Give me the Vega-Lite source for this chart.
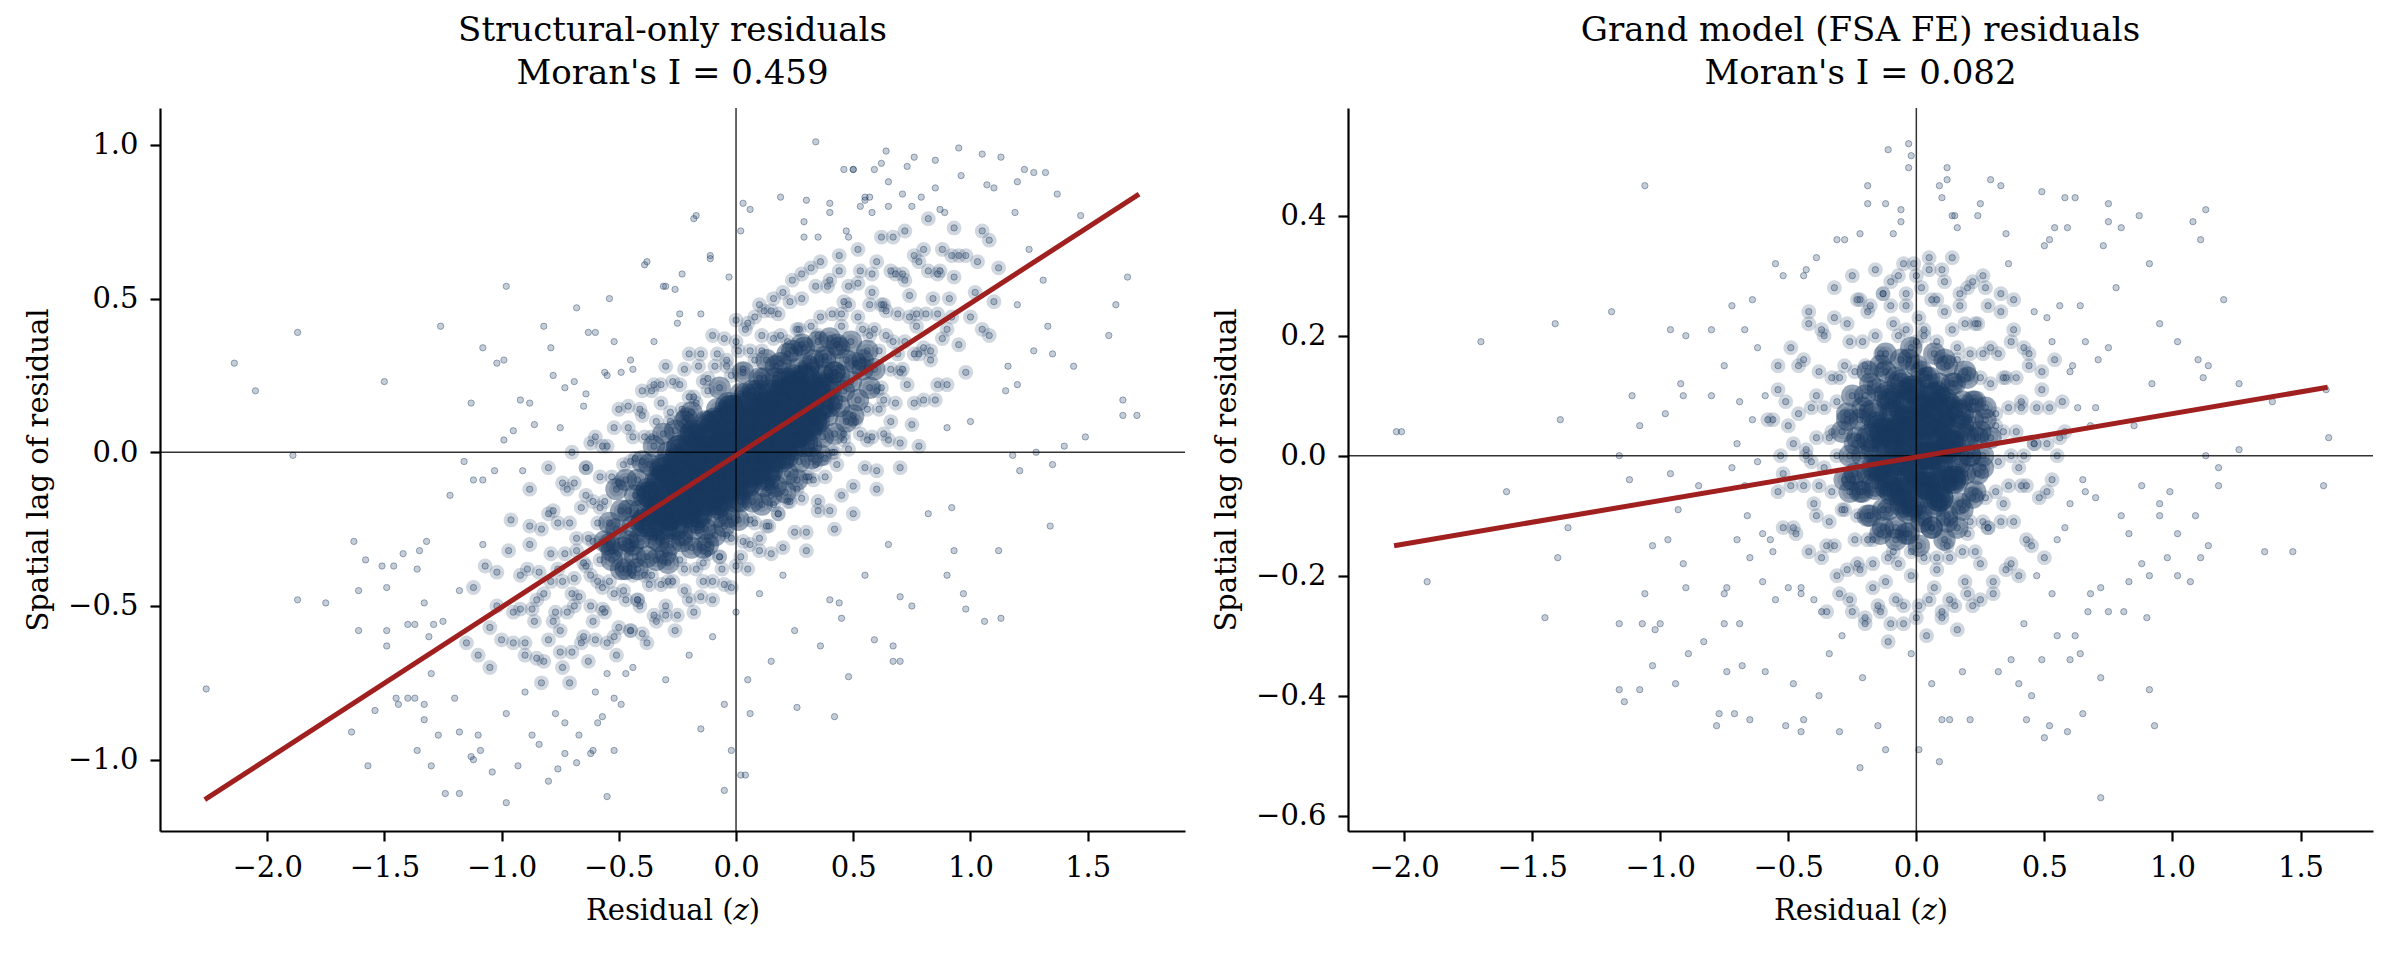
{
  "$schema": "https://vega.github.io/schema/vega-lite/v6.json",
  "background": "white",
  "padding": {"left": 24, "top": 14, "right": 5, "bottom": 5},
  "spacing": 26,
  "config": {
    "font": "DejaVu Serif",
    "view": {"stroke": null},
    "axis": {
      "grid": false,
      "domainColor": "black",
      "domainWidth": 2.2,
      "tickColor": "black",
      "tickWidth": 2.2,
      "tickSize": 10,
      "labelFont": "DejaVu Serif",
      "labelFontSize": 29,
      "labelColor": "black",
      "labelPadding": 12,
      "titleFont": "DejaVu Serif",
      "titleFontSize": 29,
      "titleFontWeight": "normal",
      "titleColor": "black",
      "titlePadding": 14
    },
    "title": {
      "font": "DejaVu Serif",
      "fontSize": 34,
      "fontWeight": "normal",
      "color": "black",
      "lineHeight": 43,
      "offset": 16,
      "anchor": "middle",
      "frame": "group"
    }
  },
  "hconcat": [
    {
      "width": 1025,
      "height": 723,
      "title": {"text": ["Structural-only residuals", "Moran's I = 0.459"]},
      "data": {
        "values": "x,y\n-2.26,-0.77\n-2.14,0.29\n-2.05,0.20\n-1.87,0.39\n-1.89,-0.01\n-1.87,-0.48\n-1.75,-0.49\n-1.63,-0.29\n-1.58,-0.35\n-1.61,-0.45\n-1.61,-0.58\n-1.54,-0.84\n-1.57,-1.02\n-1.64,-0.91\n-1.50,0.23\n-1.51,-0.37\n-1.46,-0.37\n-1.49,-0.44\n-1.49,-0.58\n-1.49,-0.63\n-1.42,-0.33\n-1.32,-0.29\n-1.35,-0.32\n-1.26,0.41\n-1.08,0.34\n-1.02,0.29\n-0.99,0.30\n-0.98,0.54\n-1.13,0.16\n-0.82,0.41\n-0.79,0.34\n-0.68,0.47\n-0.54,0.50\n-0.39,0.61\n-0.38,0.62\n-0.23,0.58\n-0.18,0.76\n-0.17,0.77\n-0.11,0.64\n-0.31,0.54\n-0.26,0.53\n-0.63,0.39\n-0.60,0.39\n-1.36,-0.97\n-1.30,-1.02\n-1.24,-1.11\n-1.18,-1.11\n-0.98,-1.14\n-1.04,-1.04\n-0.80,-1.07\n-0.76,-1.03\n-0.55,-1.12\n-0.68,-1.01\n-0.61,-0.97\n-0.52,-0.97\n-1.27,-0.92\n-1.18,-0.91\n-1.13,-0.99\n-1.09,-0.97\n-1.37,-0.80\n-1.44,-0.82\n-1.45,-0.80\n-1.40,-0.80\n-1.33,-0.87\n-1.33,-0.82\n-1.40,-0.56\n-1.37,-0.56\n-1.36,-0.38\n-1.33,-0.49\n-1.29,-0.56\n-1.31,-0.60\n-1.22,-0.14\n-1.16,-0.03\n-1.12,-0.09\n-1.08,-0.09\n-1.03,-0.06\n-0.99,0.04\n-0.95,0.07\n-0.91,-0.06\n-0.92,0.17\n-0.88,0.16\n-0.86,0.09\n-0.78,0.25\n-0.73,0.21\n-0.69,0.23\n-0.64,0.19\n-0.56,0.26\n-0.52,0.36\n-0.49,0.26\n-0.44,0.27\n0.34,1.01\n0.64,0.98\n0.95,0.99\n1.05,0.97\n1.13,0.96\n1.27,0.91\n1.32,0.91\n1.23,0.92\n0.85,0.95\n0.76,0.96\n0.73,0.93\n0.59,0.92\n0.46,0.92\n0.50,0.92\n0.19,0.83\n0.03,0.81\n0.06,0.79\n0.02,0.72\n1.37,0.84\n1.20,0.88\n1.47,0.77\n1.67,0.57\n1.62,0.48\n1.59,0.38\n1.65,0.17\n1.71,0.12\n1.65,0.12\n1.49,0.05\n1.40,0.02\n1.35,-0.04\n1.34,-0.24\n1.12,-0.32\n1.13,-0.54\n1.06,-0.55\n0.98,-0.51\n0.97,-0.46\n0.67,-0.68\n0.67,-0.63\n0.48,-0.73\n0.42,-0.86\n0.26,-0.83\n0.06,-0.85\n0.04,-1.05\n0.02,-1.05\n-0.05,-1.10\n-0.02,-0.97\n0.59,-0.61\n0.70,-0.47\n0.70,-0.68\n0.44,-0.49\n0.45,-0.54\n0.36,-0.63\n0.92,-0.18\n0.93,-0.32\n1.21,-0.06\n1.18,-0.01\n1.28,0.00\n1.20,0.22\n1.16,0.28\n1.27,0.33\n1.35,0.32\n1.33,0.41\n1.44,0.28\n1.31,0.56\n1.19,0.78\n0.93,0.73\n1.07,0.87\n0.79,0.83\n0.87,0.79\n0.65,0.80\n0.55,0.83\n0.57,0.83\n0.40,0.81\n0.29,0.75\n0.29,0.70\n-0.11,0.63\n-0.03,0.57\n-0.24,0.45\n-0.30,0.54\n-0.40,-0.22\n-0.38,-0.12\n-0.35,-0.28\n-0.33,-0.18\n-0.31,-0.05\n-0.30,-0.33\n-0.28,-0.21\n-0.26,-0.10\n-0.25,0.02\n-0.23,-0.27\n-0.21,-0.15\n-0.20,-0.04\n-0.18,0.06\n-0.17,-0.22\n-0.15,-0.11\n-0.13,0.01\n-0.12,-0.30\n-0.10,-0.06\n-0.09,0.10\n-0.08,-0.17\n-0.06,0.03\n-0.05,-0.24\n-0.04,-0.09\n-0.02,0.14\n-0.01,0.00\n0.00,-0.15\n0.01,0.08\n0.02,-0.05\n0.04,0.19\n0.05,-0.10\n0.06,0.04\n0.08,0.13\n0.09,-0.02\n0.10,0.24\n0.12,0.07\n0.13,-0.08\n0.14,0.16\n0.16,0.02\n0.17,0.28\n0.18,0.11\n0.20,0.20\n0.21,-0.01\n0.22,0.32\n0.24,0.14\n0.25,0.24\n0.27,0.06\n0.28,0.35\n0.30,0.18\n0.31,0.27\n0.33,0.10\n0.35,0.38\n0.36,0.22\n0.38,0.30\n0.40,0.15\n0.42,0.26\n-0.44,-0.30\n-0.42,-0.38\n0.44,0.34\n-0.36,-0.40\n0.03,0.27\n-0.07,-0.34\n0.15,-0.14\n-0.19,0.13\n0.26,0.40\n-0.29,-0.42\n0.32,0.02\n-0.22,0.10\n0.11,0.33\n-0.14,-0.36\n0.19,0.38\n-0.90,-0.62\n-0.88,-0.30\n-0.85,-0.48\n-0.83,-0.75\n-0.80,-0.20\n-0.78,-0.55\n-0.76,-0.38\n-0.74,-0.70\n-0.72,-0.12\n-0.70,-0.46\n-0.68,-0.28\n-0.66,-0.62\n-0.64,-0.05\n-0.62,-0.40\n-0.60,-0.78\n-0.58,-0.18\n-0.56,-0.52\n-0.55,0.02\n-0.53,-0.32\n-0.51,-0.66\n-0.50,-0.10\n-0.48,-0.45\n-0.46,0.08\n-0.45,-0.58\n-0.43,-0.02\n-0.41,-0.50\n-0.40,0.12\n-0.38,-0.62\n-0.36,0.05\n-0.34,-0.55\n-0.32,0.16\n-0.30,-0.50\n-0.28,0.10\n-0.26,-0.58\n-0.24,0.22\n-0.22,-0.45\n-0.20,0.18\n-0.18,-0.52\n-0.16,0.28\n-0.14,-0.42\n-0.12,0.24\n-0.10,-0.48\n-0.08,0.32\n-0.06,-0.38\n-0.04,0.30\n-0.02,-0.44\n0.00,0.36\n0.02,-0.34\n0.04,0.40\n0.06,-0.30\n0.08,0.44\n0.10,-0.28\n0.12,0.46\n0.14,-0.24\n0.16,0.50\n0.18,-0.20\n0.20,0.52\n0.22,-0.16\n0.24,0.56\n0.26,-0.12\n0.28,0.58\n0.30,-0.08\n0.32,0.60\n0.34,-0.04\n0.36,0.62\n0.38,-0.02\n0.40,0.56\n0.42,0.00\n0.44,0.64\n0.46,0.06\n0.48,0.48\n0.50,0.12\n0.52,0.66\n0.54,0.30\n0.56,0.04\n0.58,0.52\n0.60,0.20\n0.62,0.70\n0.64,0.38\n0.66,0.10\n0.68,0.58\n0.70,0.26\n0.72,0.72\n0.74,0.44\n0.76,0.16\n0.78,0.62\n0.80,0.34\n0.82,0.76\n0.84,0.50\n0.86,0.22\n0.88,0.66\n0.90,0.40\n-0.87,-0.92\n-0.73,-0.88\n-0.57,-0.86\n0.58,0.78\n0.71,0.84\n0.85,0.86\n-0.64,-0.14\n-0.47,-0.72\n0.47,0.72\n0.63,0.06\n-0.35,0.22\n0.35,-0.16\n-0.52,-0.80\n0.53,0.80\n-1.20,-0.80\n-1.15,-0.62\n-1.10,-0.92\n-1.05,-0.70\n-1.02,-0.50\n-0.98,-0.85\n-0.95,-0.62\n-0.92,-0.40\n-0.90,-0.78\n-0.86,-0.55\n-0.84,-0.95\n-0.82,-0.68\n-0.79,-0.42\n-0.77,-0.85\n-0.75,-0.58\n-0.71,-0.75\n-0.69,-0.50\n-0.67,-0.92\n-0.65,-0.36\n-0.63,-0.68\n-0.61,-0.55\n-0.59,-0.88\n-0.57,-0.44\n-0.55,-0.72\n-0.54,-0.30\n-0.52,-0.60\n-0.49,-0.82\n-0.47,-0.38\n-0.44,-0.70\n-0.42,-0.48\n-1.25,-0.55\n-1.30,-0.72\n-1.18,-0.45\n-1.08,-0.30\n-0.96,-0.22\n-0.88,-0.12\n-1.12,-1.00\n-0.93,-1.02\n-0.73,-0.98\n-0.62,-0.98\n0.45,0.45\n0.48,0.70\n0.52,0.55\n0.55,0.82\n0.57,0.38\n0.60,0.62\n0.63,0.48\n0.65,0.88\n0.67,0.70\n0.69,0.32\n0.72,0.56\n0.75,0.80\n0.77,0.45\n0.80,0.66\n0.83,0.30\n0.86,0.58\n0.89,0.78\n0.92,0.44\n0.95,0.64\n0.98,0.26\n1.02,0.52\n1.05,0.72\n1.08,0.38\n1.12,0.60\n1.15,0.20\n1.20,0.48\n1.25,0.66\n1.10,0.86\n0.96,0.90\n0.40,0.78\n0.35,0.70\n0.30,0.82\n0.50,0.92\n0.62,0.94\n1.00,0.10\n0.90,0.08\n0.78,0.02\n0.70,-0.05\n0.60,-0.12\n0.50,-0.20\n0.42,-0.25\n0.30,-0.32\n0.20,-0.40\n0.10,-0.46\n0.00,-0.52\n-0.10,-0.60\n-0.20,-0.66\n-0.30,-0.74\n0.82,-0.20\n0.65,-0.30\n0.55,-0.40\n0.40,-0.48\n0.25,-0.58\n0.15,-0.68\n0.05,-0.74\n-0.05,-0.82\n-0.15,-0.90\n0.90,-0.40\n0.75,-0.50\n-0.20,0.32\n-0.30,0.28\n-0.40,0.20\n-0.50,0.14\n-0.60,0.05\n-0.70,0.00\n-0.45,0.30\n-0.25,0.42\n-0.15,0.45\n-0.35,0.36\n-0.55,0.25\n-0.65,0.15\n-0.75,0.08\n-0.80,-0.05\n-1.10,-0.66\n-1.12,-0.44\n-1.05,-0.57\n-1.07,-0.37\n-1.00,-0.61\n-1.02,-0.39\n-0.95,-0.52\n-0.97,-0.32\n-0.90,-0.66\n-0.92,-0.51\n-0.89,-0.38\n-0.88,-0.24\n-0.85,-0.67\n-0.87,-0.51\n-0.84,-0.39\n-0.83,-0.25\n-0.80,-0.61\n-0.82,-0.46\n-0.79,-0.33\n-0.78,-0.19\n-0.75,-0.65\n-0.77,-0.52\n-0.74,-0.42\n-0.73,-0.33\n-0.76,-0.23\n-0.74,-0.10\n-0.70,-0.65\n-0.72,-0.52\n-0.69,-0.41\n-0.68,-0.32\n-0.71,-0.23\n-0.69,-0.10\n-0.65,-0.60\n-0.67,-0.47\n-0.64,-0.37\n-0.63,-0.28\n-0.66,-0.18\n-0.64,-0.05\n-0.60,-0.61\n-0.62,-0.50\n-0.59,-0.42\n-0.58,-0.35\n-0.61,-0.29\n-0.59,-0.23\n-0.61,-0.16\n-0.58,-0.08\n-0.62,0.03\n-0.55,-0.62\n-0.57,-0.51\n-0.54,-0.42\n-0.53,-0.35\n-0.56,-0.29\n-0.54,-0.23\n-0.56,-0.16\n-0.53,-0.08\n-0.57,0.02\n-0.50,-0.57\n-0.52,-0.46\n-0.49,-0.38\n-0.48,-0.31\n-0.51,-0.25\n-0.49,-0.19\n-0.51,-0.12\n-0.48,-0.04\n-0.52,0.08\n-0.45,-0.58\n-0.47,-0.48\n-0.44,-0.40\n-0.43,-0.34\n-0.46,-0.29\n-0.44,-0.24\n-0.46,-0.19\n-0.43,-0.14\n-0.47,-0.09\n-0.45,-0.03\n-0.44,0.05\n-0.46,0.15\n-0.40,-0.59\n-0.42,-0.48\n-0.39,-0.40\n-0.38,-0.34\n-0.41,-0.28\n-0.39,-0.23\n-0.41,-0.19\n-0.38,-0.14\n-0.42,-0.09\n-0.40,-0.03\n-0.39,0.05\n-0.41,0.14\n-0.35,-0.53\n-0.37,-0.43\n-0.34,-0.35\n-0.33,-0.29\n-0.36,-0.24\n-0.34,-0.19\n-0.36,-0.14\n-0.33,-0.09\n-0.37,-0.04\n-0.35,0.02\n-0.34,0.10\n-0.36,0.20\n-0.30,-0.53\n-0.32,-0.43\n-0.29,-0.36\n-0.28,-0.30\n-0.31,-0.25\n-0.29,-0.21\n-0.31,-0.17\n-0.28,-0.13\n-0.32,-0.09\n-0.30,-0.05\n-0.29,0.00\n-0.31,0.06\n-0.28,0.13\n-0.32,0.22\n-0.25,-0.53\n-0.27,-0.42\n-0.24,-0.35\n-0.23,-0.29\n-0.26,-0.24\n-0.24,-0.19\n-0.26,-0.15\n-0.23,-0.11\n-0.27,-0.07\n-0.25,-0.03\n-0.24,0.01\n-0.26,0.07\n-0.23,0.14\n-0.27,0.23\n-0.20,-0.48\n-0.22,-0.38\n-0.19,-0.31\n-0.18,-0.25\n-0.21,-0.20\n-0.19,-0.16\n-0.21,-0.12\n-0.18,-0.08\n-0.22,-0.04\n-0.20,0.00\n-0.19,0.05\n-0.21,0.11\n-0.18,0.18\n-0.22,0.27\n-0.15,-0.47\n-0.17,-0.38\n-0.14,-0.31\n-0.13,-0.25\n-0.16,-0.20\n-0.14,-0.16\n-0.16,-0.12\n-0.13,-0.09\n-0.17,-0.06\n-0.15,-0.02\n-0.14,0.01\n-0.16,0.05\n-0.13,0.10\n-0.17,0.16\n-0.14,0.23\n-0.15,0.32\n-0.10,-0.42\n-0.12,-0.33\n-0.09,-0.27\n-0.08,-0.21\n-0.11,-0.16\n-0.09,-0.12\n-0.11,-0.09\n-0.08,-0.05\n-0.12,-0.02\n-0.10,0.01\n-0.09,0.05\n-0.11,0.09\n-0.08,0.14\n-0.12,0.20\n-0.09,0.28\n-0.10,0.38\n-0.05,-0.43\n-0.07,-0.34\n-0.04,-0.27\n-0.03,-0.21\n-0.06,-0.16\n-0.04,-0.12\n-0.06,-0.08\n-0.03,-0.05\n-0.07,-0.02\n-0.05,0.03\n-0.04,0.06\n-0.06,0.10\n-0.03,0.15\n-0.07,0.21\n-0.04,0.28\n-0.05,0.37\n0.00,-0.37\n-0.02,-0.28\n0.01,-0.22\n0.02,-0.16\n-0.01,-0.11\n0.01,-0.07\n-0.01,-0.04\n0.02,0.00\n-0.02,0.03\n0.00,0.06\n0.01,0.10\n-0.01,0.14\n0.02,0.19\n-0.02,0.25\n0.01,0.33\n0.00,0.43\n0.05,-0.38\n0.03,-0.29\n0.06,-0.22\n0.07,-0.16\n0.04,-0.11\n0.06,-0.07\n0.04,-0.03\n0.07,0.01\n0.03,0.04\n0.05,0.08\n0.06,0.11\n0.04,0.15\n0.07,0.20\n0.03,0.26\n0.06,0.33\n0.05,0.42\n0.10,-0.32\n0.08,-0.23\n0.11,-0.17\n0.12,-0.11\n0.09,-0.06\n0.11,-0.02\n0.09,0.01\n0.12,0.05\n0.08,0.08\n0.10,0.11\n0.11,0.15\n0.09,0.19\n0.12,0.24\n0.08,0.30\n0.11,0.38\n0.10,0.48\n0.15,-0.33\n0.13,-0.24\n0.16,-0.17\n0.17,-0.11\n0.14,-0.06\n0.16,-0.02\n0.14,0.02\n0.17,0.05\n0.13,0.08\n0.15,0.12\n0.16,0.15\n0.14,0.19\n0.17,0.24\n0.13,0.30\n0.16,0.37\n0.15,0.46\n0.20,-0.31\n0.18,-0.20\n0.21,-0.13\n0.22,-0.07\n0.19,-0.02\n0.21,0.03\n0.19,0.07\n0.22,0.11\n0.18,0.15\n0.20,0.19\n0.21,0.23\n0.19,0.29\n0.22,0.36\n0.18,0.45\n0.25,-0.26\n0.23,-0.16\n0.26,-0.09\n0.27,-0.03\n0.24,0.02\n0.26,0.06\n0.24,0.10\n0.27,0.14\n0.23,0.18\n0.25,0.22\n0.26,0.27\n0.24,0.33\n0.27,0.40\n0.23,0.49\n0.30,-0.26\n0.28,-0.15\n0.31,-0.08\n0.32,-0.02\n0.29,0.03\n0.31,0.08\n0.29,0.12\n0.32,0.16\n0.28,0.20\n0.30,0.24\n0.31,0.28\n0.29,0.34\n0.32,0.41\n0.28,0.50\n0.35,-0.19\n0.33,-0.09\n0.36,-0.01\n0.37,0.05\n0.34,0.10\n0.36,0.15\n0.34,0.20\n0.37,0.25\n0.33,0.30\n0.35,0.36\n0.36,0.44\n0.34,0.54\n0.40,-0.19\n0.38,-0.08\n0.41,0.00\n0.42,0.06\n0.39,0.12\n0.41,0.17\n0.39,0.21\n0.42,0.26\n0.38,0.31\n0.40,0.37\n0.41,0.45\n0.39,0.54\n0.45,-0.14\n0.43,-0.04\n0.46,0.04\n0.47,0.10\n0.44,0.15\n0.46,0.20\n0.44,0.25\n0.47,0.30\n0.43,0.35\n0.45,0.41\n0.46,0.49\n0.44,0.59\n0.50,-0.11\n0.48,0.01\n0.51,0.10\n0.52,0.17\n0.49,0.23\n0.51,0.29\n0.49,0.36\n0.52,0.44\n0.48,0.54\n0.55,-0.05\n0.53,0.06\n0.56,0.14\n0.57,0.21\n0.54,0.27\n0.56,0.33\n0.54,0.40\n0.57,0.48\n0.53,0.59\n0.60,-0.06\n0.58,0.05\n0.61,0.14\n0.62,0.21\n0.59,0.27\n0.61,0.33\n0.59,0.40\n0.62,0.48\n0.58,0.58\n0.65,0.04\n0.63,0.17\n0.66,0.27\n0.67,0.36\n0.64,0.46\n0.66,0.59\n0.70,0.03\n0.68,0.16\n0.71,0.27\n0.72,0.36\n0.69,0.45\n0.71,0.58\n0.75,0.09\n0.73,0.22\n0.76,0.32\n0.77,0.41\n0.74,0.51\n0.76,0.64\n0.80,0.17\n0.78,0.32\n0.81,0.45\n0.82,0.59\n0.85,0.17\n0.83,0.33\n0.86,0.45\n0.87,0.59\n0.90,0.22\n0.88,0.37\n0.91,0.50\n0.92,0.64\n0.95,0.35\n0.93,0.57\n1.00,0.44\n0.98,0.64\n1.05,0.40\n1.03,0.62\n1.10,0.49\n1.08,0.69",
        "format": {"type": "csv", "parse": {"x": "number", "y": "number"}}
      },
      "layer": [
        {
          "transform": [{"filter": "pow(datum.x/0.6,2)+pow((datum.y-0.49*datum.x)/0.25,2) < 4"}],
          "mark": {"type": "circle", "size": 220, "color": "#18375e", "opacity": 0.2},
          "encoding": {
            "x": {"field": "x", "type": "quantitative", "scale": {"domain": [-2.457, 1.915], "nice": false, "zero": false}, "axis": {"title": "Residual (𝑧)", "values": [-2, -1.5, -1, -0.5, 0, 0.5, 1, 1.5], "format": ".1f"}},
            "y": {"field": "y", "type": "quantitative", "scale": {"domain": [-1.232, 1.12], "nice": false, "zero": false}, "axis": {"title": "Spatial lag of residual", "values": [-1, -0.5, 0, 0.5, 1], "format": ".1f"}}
          }
        },
        {
          "transform": [{"filter": "pow(datum.x/0.6,2)+pow((datum.y-0.49*datum.x)/0.25,2) < 1"}],
          "mark": {"type": "circle", "size": 500, "color": "#18375e", "opacity": 0.45},
          "encoding": {
            "x": {"field": "x", "type": "quantitative", "scale": {"domain": [-2.457, 1.915], "nice": false, "zero": false}, "axis": {"title": "Residual (𝑧)", "values": [-2, -1.5, -1, -0.5, 0, 0.5, 1, 1.5], "format": ".1f"}},
            "y": {"field": "y", "type": "quantitative", "scale": {"domain": [-1.232, 1.12], "nice": false, "zero": false}, "axis": {"title": "Spatial lag of residual", "values": [-1, -0.5, 0, 0.5, 1], "format": ".1f"}}
          }
        },
        {
          "transform": [{"filter": "pow(datum.x/0.6,2)+pow((datum.y-0.49*datum.x)/0.25,2) < 0.45"}],
          "mark": {"type": "circle", "size": 800, "color": "#18375e", "opacity": 0.5},
          "encoding": {
            "x": {"field": "x", "type": "quantitative", "scale": {"domain": [-2.457, 1.915], "nice": false, "zero": false}, "axis": {"title": "Residual (𝑧)", "values": [-2, -1.5, -1, -0.5, 0, 0.5, 1, 1.5], "format": ".1f"}},
            "y": {"field": "y", "type": "quantitative", "scale": {"domain": [-1.232, 1.12], "nice": false, "zero": false}, "axis": {"title": "Spatial lag of residual", "values": [-1, -0.5, 0, 0.5, 1], "format": ".1f"}}
          }
        },
        {
          "mark": {"type": "point", "filled": true, "size": 40, "fill": "#18375e", "stroke": "#18375e", "fillOpacity": 0.25, "strokeOpacity": 0.4, "strokeWidth": 1},
          "encoding": {
            "x": {"field": "x", "type": "quantitative", "scale": {"domain": [-2.457, 1.915], "nice": false, "zero": false}, "axis": {"title": "Residual (𝑧)", "values": [-2, -1.5, -1, -0.5, 0, 0.5, 1, 1.5], "format": ".1f"}},
            "y": {"field": "y", "type": "quantitative", "scale": {"domain": [-1.232, 1.12], "nice": false, "zero": false}, "axis": {"title": "Spatial lag of residual", "values": [-1, -0.5, 0, 0.5, 1], "format": ".1f"}}
          }
        },
        {
          "data": {"values": [{}]},
          "mark": {"type": "rule", "color": "black", "strokeWidth": 1.5, "opacity": 0.8},
          "encoding": {
            "y": {"datum": 0, "type": "quantitative", "scale": {"domain": [-1.232, 1.12], "nice": false, "zero": false}, "axis": {"title": "Spatial lag of residual", "values": [-1, -0.5, 0, 0.5, 1], "format": ".1f"}}
          }
        },
        {
          "data": {"values": [{}]},
          "mark": {"type": "rule", "color": "black", "strokeWidth": 1.5, "opacity": 0.8},
          "encoding": {
            "x": {"datum": 0, "type": "quantitative", "scale": {"domain": [-2.457, 1.915], "nice": false, "zero": false}, "axis": {"title": "Residual (𝑧)", "values": [-2, -1.5, -1, -0.5, 0, 0.5, 1, 1.5], "format": ".1f"}}
          }
        },
        {
          "data": {"values": [{"x": -2.266, "y": -1.13}, {"x": 1.719, "y": 0.84}]},
          "mark": {"type": "line", "color": "#a01f1f", "strokeWidth": 5},
          "encoding": {
            "x": {"field": "x", "type": "quantitative", "scale": {"domain": [-2.457, 1.915], "nice": false, "zero": false}, "axis": {"title": "Residual (𝑧)", "values": [-2, -1.5, -1, -0.5, 0, 0.5, 1, 1.5], "format": ".1f"}},
            "y": {"field": "y", "type": "quantitative", "scale": {"domain": [-1.232, 1.12], "nice": false, "zero": false}, "axis": {"title": "Spatial lag of residual", "values": [-1, -0.5, 0, 0.5, 1], "format": ".1f"}}
          }
        }
      ]
    },
    {
      "width": 1025,
      "height": 723,
      "title": {"text": ["Grand model (FSA FE) residuals", "Moran's I = 0.082"]},
      "data": {
        "values": "x,y\n-0.03,0.52\n-0.11,0.51\n-0.02,0.50\n-0.03,0.48\n0.12,0.48\n0.12,0.46\n0.09,0.45\n0.29,0.46\n0.33,0.45\n-1.06,0.45\n-0.19,0.45\n-0.19,0.42\n0.10,0.43\n0.49,0.44\n0.58,0.43\n0.62,0.43\n0.75,0.42\n0.87,0.40\n1.13,0.41\n1.08,0.39\n1.11,0.36\n0.75,0.39\n0.80,0.38\n0.59,0.38\n0.54,0.38\n0.52,0.36\n-0.06,0.41\n-0.06,0.39\n0.14,0.40\n0.16,0.38\n0.35,0.37\n-0.22,0.37\n-0.31,0.36\n-0.39,0.33\n-0.52,0.30\n-0.43,0.31\n0.91,0.32\n1.20,0.26\n0.73,0.35\n-1.19,0.24\n-1.41,0.22\n-1.70,0.19\n-0.96,0.21\n-0.80,0.21\n-0.64,0.26\n-0.67,0.21\n-0.75,0.15\n-0.92,0.12\n-1.11,0.10\n-1.39,0.06\n-2.03,0.04\n-2.01,0.04\n-1.08,0.05\n-0.98,0.07\n-0.91,0.10\n-1.16,0.00\n1.61,0.03\n1.60,0.11\n1.39,0.09\n1.26,0.12\n1.12,0.13\n1.14,0.15\n1.10,0.16\n0.95,0.22\n1.02,0.19\n1.26,0.01\n1.18,-0.02\n-1.60,-0.06\n-1.91,-0.21\n-1.45,-0.27\n-1.36,-0.12\n-1.40,-0.17\n-1.16,-0.28\n-1.07,-0.28\n-1.16,-0.39\n-1.14,-0.41\n-1.08,-0.39\n-1.03,-0.35\n-0.94,-0.38\n-1.06,-0.23\n-1.00,-0.28\n-1.02,-0.29\n-0.83,-0.31\n-0.89,-0.33\n-0.78,-0.45\n-0.77,-0.43\n-0.71,-0.43\n-0.65,-0.44\n-0.51,-0.45\n-0.45,-0.46\n-0.44,-0.44\n-0.22,-0.52\n-0.12,-0.49\n0.01,-0.49\n0.09,-0.51\n0.72,-0.57\n0.50,-0.47\n0.52,-0.45\n0.59,-0.46\n0.65,-0.43\n0.43,-0.44\n0.93,-0.45\n0.91,-0.39\n0.13,-0.44\n0.21,-0.44\n0.72,-0.37\n0.40,-0.38\n0.37,-0.34\n0.49,-0.34\n0.60,-0.34\n0.64,-0.33\n0.55,-0.30\n0.90,-0.27\n0.75,-0.26\n1.07,-0.21\n1.02,-0.20\n0.91,-0.20\n0.83,-0.21\n1.11,-0.17\n1.36,-0.16\n1.47,-0.16\n1.14,-0.15\n1.02,-0.13\n1.09,-0.10\n1.59,-0.05\n1.18,-0.05\n1.13,0.00\n0.95,-0.08\n0.95,-0.10\n0.99,-0.06\n0.83,-0.13\n0.98,-0.17\n0.68,-0.23\n0.67,-0.26\n0.53,-0.23\n-1.03,-0.15\n-0.97,-0.14\n-0.93,-0.09\n-1.12,-0.04\n-0.96,-0.03\n-0.91,-0.18\n-0.90,-0.22\n-0.74,-0.22\n-0.75,-0.23\n-0.69,-0.28\n-0.74,-0.36\n-0.59,-0.36\n0.81,-0.26\n0.88,-0.05\n-0.24,0.02\n-0.22,-0.06\n-0.21,0.08\n-0.19,-0.10\n-0.18,0.12\n-0.16,-0.02\n-0.15,0.05\n-0.13,-0.12\n-0.12,0.14\n-0.11,-0.05\n-0.10,0.09\n-0.08,-0.14\n-0.07,0.01\n-0.06,0.16\n-0.05,-0.08\n-0.04,0.06\n-0.03,-0.13\n-0.02,0.11\n-0.01,-0.03\n0.00,0.15\n0.01,0.03\n0.02,-0.10\n0.03,0.08\n0.04,-0.05\n0.05,0.13\n0.06,-0.12\n0.07,0.00\n0.08,0.10\n0.09,-0.07\n0.10,0.05\n0.11,0.16\n0.12,-0.11\n0.13,0.02\n0.14,0.12\n0.15,-0.04\n0.17,0.07\n0.18,-0.09\n0.19,0.14\n0.21,0.00\n0.22,0.09\n0.23,-0.06\n0.25,0.04\n-0.25,-0.04\n0.26,-0.02\n-0.09,0.03\n0.05,0.00\n-0.14,0.17\n0.16,0.18\n-0.17,-0.14\n0.12,-0.15\n-0.02,-0.16\n0.00,0.19\n-0.27,0.07\n0.27,0.08\n-0.04,0.21\n0.08,-0.17\n-0.20,0.15\n0.20,-0.13\n-0.11,-0.17\n0.03,0.20\n-0.50,0.05\n-0.48,-0.12\n-0.46,0.15\n-0.45,-0.22\n-0.43,0.00\n-0.42,0.24\n-0.40,-0.08\n-0.39,0.10\n-0.37,-0.26\n-0.36,0.20\n-0.35,-0.15\n-0.33,0.04\n-0.32,0.28\n-0.31,-0.20\n-0.30,0.13\n-0.29,-0.30\n-0.28,-0.09\n-0.27,0.22\n-0.26,-0.24\n-0.25,0.30\n-0.23,-0.18\n-0.22,0.26\n-0.20,-0.28\n-0.19,0.24\n-0.17,-0.22\n-0.16,0.31\n-0.14,-0.26\n-0.13,0.27\n-0.11,-0.31\n-0.10,0.25\n-0.08,-0.24\n-0.07,0.30\n-0.05,-0.28\n-0.04,0.27\n-0.02,-0.33\n-0.01,0.32\n0.01,-0.25\n0.02,0.28\n0.04,-0.30\n0.05,0.31\n0.07,-0.22\n0.08,0.26\n0.10,-0.27\n0.11,0.29\n0.13,-0.24\n0.14,0.33\n0.16,-0.29\n0.17,0.25\n0.19,-0.21\n0.20,0.28\n0.22,-0.25\n0.23,0.22\n0.25,-0.18\n0.26,0.30\n0.28,-0.12\n0.29,0.18\n0.30,-0.23\n0.31,0.05\n0.33,0.24\n0.34,-0.08\n0.35,0.13\n0.37,-0.18\n0.38,0.21\n0.40,-0.02\n0.41,0.09\n0.43,-0.14\n0.44,0.17\n0.46,0.02\n0.47,-0.20\n0.49,0.11\n0.51,-0.06\n0.53,0.19\n-0.52,-0.03\n-0.54,0.11\n-0.56,-0.16\n0.55,0.00\n0.58,-0.12\n-0.58,0.06\n0.60,0.14\n-0.60,-0.21\n-0.34,-0.33\n0.36,0.32\n-0.21,-0.37\n0.18,-0.36\n-0.09,0.37\n0.06,-0.38\n-0.44,0.30\n0.42,-0.28\n-0.62,0.18\n0.64,0.25\n-0.66,-0.10\n0.66,-0.06\n-0.70,0.02\n0.70,0.08\n-0.38,-0.40\n0.32,-0.36\n0.24,0.40\n-0.28,0.36\n0.75,0.18\n0.80,-0.10\n0.85,0.05\n0.72,-0.22\n0.78,0.28\n-0.75,-0.28\n-0.80,0.10\n-0.72,0.25\n-0.85,-0.05\n-0.68,-0.35\n0.62,-0.30\n0.88,-0.18\n0.92,0.12\n-0.90,0.20\n-0.55,0.32\n0.50,0.35\n-0.48,-0.38\n0.45,-0.40\n-0.15,-0.45\n0.10,-0.44\n-0.30,-0.46\n0.25,0.42\n-0.12,0.42\n0.15,0.40\n-0.70,-0.14\n-0.72,-0.02\n-0.69,0.09\n-0.65,-0.17\n-0.67,-0.05\n-0.64,0.06\n-0.60,-0.13\n-0.62,-0.01\n-0.59,0.10\n-0.55,-0.24\n-0.57,-0.14\n-0.54,-0.06\n-0.53,0.00\n-0.56,0.06\n-0.54,0.15\n-0.50,-0.22\n-0.52,-0.12\n-0.49,-0.05\n-0.48,0.02\n-0.51,0.09\n-0.49,0.18\n-0.45,-0.23\n-0.47,-0.13\n-0.44,-0.05\n-0.43,0.01\n-0.46,0.07\n-0.44,0.16\n-0.40,-0.24\n-0.42,-0.16\n-0.39,-0.10\n-0.38,-0.05\n-0.41,-0.01\n-0.39,0.03\n-0.41,0.08\n-0.38,0.14\n-0.42,0.22\n-0.35,-0.26\n-0.37,-0.17\n-0.34,-0.11\n-0.33,-0.06\n-0.36,-0.02\n-0.34,0.03\n-0.36,0.08\n-0.33,0.13\n-0.37,0.21\n-0.30,-0.23\n-0.32,-0.15\n-0.29,-0.09\n-0.28,-0.04\n-0.31,0.00\n-0.29,0.04\n-0.31,0.09\n-0.28,0.15\n-0.32,0.23\n-0.25,-0.26\n-0.27,-0.19\n-0.24,-0.14\n-0.23,-0.10\n-0.26,-0.06\n-0.24,-0.03\n-0.26,0.00\n-0.23,0.03\n-0.27,0.06\n-0.25,0.10\n-0.24,0.14\n-0.26,0.19\n-0.23,0.26\n-0.20,-0.27\n-0.22,-0.19\n-0.19,-0.14\n-0.18,-0.10\n-0.21,-0.06\n-0.19,-0.03\n-0.21,0.00\n-0.18,0.03\n-0.22,0.06\n-0.20,0.10\n-0.19,0.14\n-0.21,0.19\n-0.18,0.25\n-0.15,-0.25\n-0.17,-0.18\n-0.14,-0.13\n-0.13,-0.09\n-0.16,-0.05\n-0.14,-0.02\n-0.16,0.01\n-0.13,0.04\n-0.17,0.07\n-0.15,0.11\n-0.14,0.15\n-0.16,0.20\n-0.13,0.27\n-0.10,-0.28\n-0.12,-0.21\n-0.09,-0.16\n-0.08,-0.12\n-0.11,-0.09\n-0.09,-0.06\n-0.11,-0.03\n-0.08,-0.01\n-0.12,0.02\n-0.10,0.04\n-0.09,0.07\n-0.11,0.10\n-0.08,0.13\n-0.12,0.17\n-0.09,0.22\n-0.10,0.29\n-0.05,-0.25\n-0.07,-0.18\n-0.04,-0.13\n-0.03,-0.09\n-0.06,-0.06\n-0.04,-0.04\n-0.06,-0.01\n-0.03,0.01\n-0.07,0.04\n-0.05,0.06\n-0.04,0.09\n-0.06,0.12\n-0.03,0.16\n-0.07,0.20\n-0.04,0.25\n-0.05,0.32\n0.00,-0.27\n-0.02,-0.20\n0.01,-0.15\n0.02,-0.11\n-0.01,-0.08\n0.01,-0.05\n-0.01,-0.02\n0.02,0.00\n-0.02,0.03\n0.00,0.05\n0.01,0.08\n-0.01,0.11\n0.02,0.14\n-0.02,0.18\n0.01,0.23\n0.00,0.30\n0.05,-0.24\n0.03,-0.17\n0.06,-0.12\n0.07,-0.08\n0.04,-0.05\n0.06,-0.03\n0.04,0.00\n0.07,0.02\n0.03,0.05\n0.05,0.07\n0.06,0.10\n0.04,0.13\n0.07,0.17\n0.03,0.21\n0.06,0.26\n0.05,0.33\n0.10,-0.26\n0.08,-0.19\n0.11,-0.14\n0.12,-0.10\n0.09,-0.07\n0.11,-0.04\n0.09,-0.01\n0.12,0.01\n0.08,0.04\n0.10,0.06\n0.11,0.09\n0.09,0.12\n0.12,0.15\n0.08,0.19\n0.11,0.24\n0.10,0.31\n0.15,-0.25\n0.13,-0.17\n0.16,-0.12\n0.17,-0.08\n0.14,-0.04\n0.16,-0.01\n0.14,0.02\n0.17,0.05\n0.13,0.08\n0.15,0.12\n0.16,0.16\n0.14,0.21\n0.17,0.27\n0.20,-0.23\n0.18,-0.16\n0.21,-0.11\n0.22,-0.07\n0.19,-0.03\n0.21,0.00\n0.19,0.03\n0.22,0.06\n0.18,0.09\n0.20,0.13\n0.21,0.17\n0.19,0.22\n0.22,0.29\n0.25,-0.24\n0.23,-0.16\n0.26,-0.11\n0.27,-0.07\n0.24,-0.03\n0.26,0.00\n0.24,0.03\n0.27,0.06\n0.23,0.09\n0.25,0.13\n0.26,0.17\n0.24,0.22\n0.27,0.28\n0.30,-0.21\n0.28,-0.12\n0.31,-0.06\n0.32,-0.01\n0.29,0.03\n0.31,0.07\n0.29,0.12\n0.32,0.17\n0.28,0.25\n0.35,-0.19\n0.33,-0.11\n0.36,-0.05\n0.37,0.00\n0.34,0.04\n0.36,0.08\n0.34,0.13\n0.37,0.19\n0.33,0.27\n0.40,-0.20\n0.38,-0.11\n0.41,-0.05\n0.42,0.00\n0.39,0.04\n0.41,0.08\n0.39,0.13\n0.42,0.18\n0.38,0.26\n0.45,-0.15\n0.43,-0.05\n0.46,0.02\n0.47,0.08\n0.44,0.15\n0.46,0.24\n0.50,-0.17\n0.48,-0.07\n0.51,0.02\n0.52,0.08\n0.49,0.14\n0.51,0.23\n0.55,-0.14\n0.53,-0.04\n0.56,0.03\n0.57,0.09\n0.54,0.16\n0.56,0.25\n0.60,-0.08\n0.58,0.04\n0.61,0.15\n0.65,-0.04\n0.63,0.08\n0.66,0.19\n0.70,-0.07\n0.68,0.05\n0.71,0.16",
        "format": {"type": "csv", "parse": {"x": "number", "y": "number"}}
      },
      "layer": [
        {
          "transform": [{"filter": "pow(datum.x/0.3,2)+pow((datum.y-0.015)/0.17,2) < 4"}],
          "mark": {"type": "circle", "size": 220, "color": "#18375e", "opacity": 0.2},
          "encoding": {
            "x": {"field": "x", "type": "quantitative", "scale": {"domain": [-2.219, 1.783], "nice": false, "zero": false}, "axis": {"title": "Residual (𝑧)", "values": [-2, -1.5, -1, -0.5, 0, 0.5, 1, 1.5], "format": ".1f"}},
            "y": {"field": "y", "type": "quantitative", "scale": {"domain": [-0.6255, 0.5795], "nice": false, "zero": false}, "axis": {"title": "Spatial lag of residual", "values": [-0.6, -0.4, -0.2, 0, 0.2, 0.4], "format": ".1f"}}
          }
        },
        {
          "transform": [{"filter": "pow(datum.x/0.3,2)+pow((datum.y-0.015)/0.17,2) < 1"}],
          "mark": {"type": "circle", "size": 500, "color": "#18375e", "opacity": 0.45},
          "encoding": {
            "x": {"field": "x", "type": "quantitative", "scale": {"domain": [-2.219, 1.783], "nice": false, "zero": false}, "axis": {"title": "Residual (𝑧)", "values": [-2, -1.5, -1, -0.5, 0, 0.5, 1, 1.5], "format": ".1f"}},
            "y": {"field": "y", "type": "quantitative", "scale": {"domain": [-0.6255, 0.5795], "nice": false, "zero": false}, "axis": {"title": "Spatial lag of residual", "values": [-0.6, -0.4, -0.2, 0, 0.2, 0.4], "format": ".1f"}}
          }
        },
        {
          "transform": [{"filter": "pow(datum.x/0.3,2)+pow((datum.y-0.015)/0.17,2) < 0.45"}],
          "mark": {"type": "circle", "size": 800, "color": "#18375e", "opacity": 0.5},
          "encoding": {
            "x": {"field": "x", "type": "quantitative", "scale": {"domain": [-2.219, 1.783], "nice": false, "zero": false}, "axis": {"title": "Residual (𝑧)", "values": [-2, -1.5, -1, -0.5, 0, 0.5, 1, 1.5], "format": ".1f"}},
            "y": {"field": "y", "type": "quantitative", "scale": {"domain": [-0.6255, 0.5795], "nice": false, "zero": false}, "axis": {"title": "Spatial lag of residual", "values": [-0.6, -0.4, -0.2, 0, 0.2, 0.4], "format": ".1f"}}
          }
        },
        {
          "mark": {"type": "point", "filled": true, "size": 40, "fill": "#18375e", "stroke": "#18375e", "fillOpacity": 0.25, "strokeOpacity": 0.4, "strokeWidth": 1},
          "encoding": {
            "x": {"field": "x", "type": "quantitative", "scale": {"domain": [-2.219, 1.783], "nice": false, "zero": false}, "axis": {"title": "Residual (𝑧)", "values": [-2, -1.5, -1, -0.5, 0, 0.5, 1, 1.5], "format": ".1f"}},
            "y": {"field": "y", "type": "quantitative", "scale": {"domain": [-0.6255, 0.5795], "nice": false, "zero": false}, "axis": {"title": "Spatial lag of residual", "values": [-0.6, -0.4, -0.2, 0, 0.2, 0.4], "format": ".1f"}}
          }
        },
        {
          "data": {"values": [{}]},
          "mark": {"type": "rule", "color": "black", "strokeWidth": 1.5, "opacity": 0.8},
          "encoding": {
            "y": {"datum": 0, "type": "quantitative", "scale": {"domain": [-0.6255, 0.5795], "nice": false, "zero": false}, "axis": {"title": "Spatial lag of residual", "values": [-0.6, -0.4, -0.2, 0, 0.2, 0.4], "format": ".1f"}}
          }
        },
        {
          "data": {"values": [{}]},
          "mark": {"type": "rule", "color": "black", "strokeWidth": 1.5, "opacity": 0.8},
          "encoding": {
            "x": {"datum": 0, "type": "quantitative", "scale": {"domain": [-2.219, 1.783], "nice": false, "zero": false}, "axis": {"title": "Residual (𝑧)", "values": [-2, -1.5, -1, -0.5, 0, 0.5, 1, 1.5], "format": ".1f"}}
          }
        },
        {
          "data": {"values": [{"x": -2.039, "y": -0.15}, {"x": 1.606, "y": 0.114}]},
          "mark": {"type": "line", "color": "#a01f1f", "strokeWidth": 5},
          "encoding": {
            "x": {"field": "x", "type": "quantitative", "scale": {"domain": [-2.219, 1.783], "nice": false, "zero": false}, "axis": {"title": "Residual (𝑧)", "values": [-2, -1.5, -1, -0.5, 0, 0.5, 1, 1.5], "format": ".1f"}},
            "y": {"field": "y", "type": "quantitative", "scale": {"domain": [-0.6255, 0.5795], "nice": false, "zero": false}, "axis": {"title": "Spatial lag of residual", "values": [-0.6, -0.4, -0.2, 0, 0.2, 0.4], "format": ".1f"}}
          }
        }
      ]
    }
  ]
}
